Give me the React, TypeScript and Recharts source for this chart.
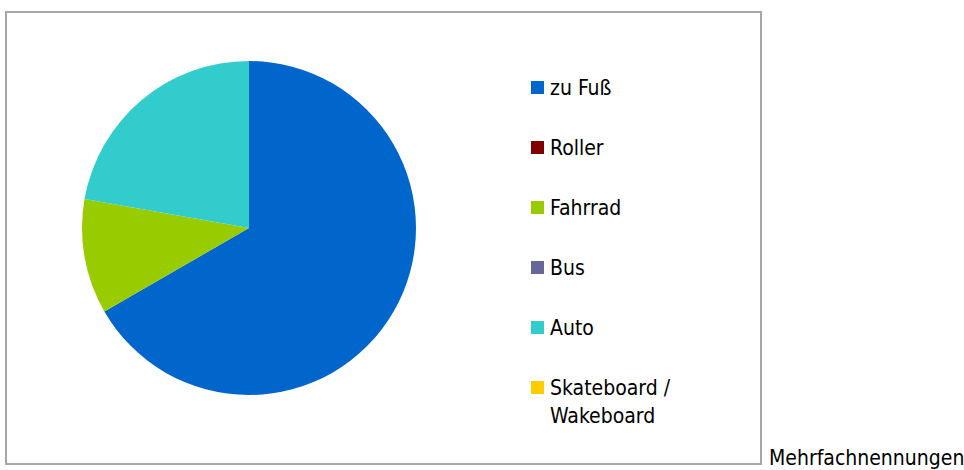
import React from 'react';
import { PieChart, Pie, Cell, Legend } from 'recharts';

const categories = ['zu Fuß', 'Roller', 'Fahrrad', 'Bus', 'Auto', 'Skateboard / Wakeboard'];
const counts = [12, 0, 2, 0, 4, 0];
const colors = ['#0066CC', '#800000', '#99CC00', '#666699', '#33CCCC', '#FFCC00'];
const note = 'Mehrfachnennungen';

const data = categories.map((name, i) => ({ name, value: counts[i] }));

const FONT = 'Tahoma, "DejaVu Sans Condensed", "DejaVu Sans", sans-serif';

const LegendBox = () => (
  <div style={{ fontFamily: FONT, fontSize: 21, color: '#000' }}>
    {categories.map((name, i) => (
      <div key={name} style={{ display: 'flex', alignItems: 'flex-start', height: 60 }}>
        <span
          style={{
            display: 'inline-block',
            width: 13,
            height: 13,
            background: colors[i],
            marginTop: 7,
            marginRight: 6,
            flexShrink: 0,
          }}
        />
        <span style={{ width: 140, lineHeight: '28px' }}>{name}</span>
      </div>
    ))}
  </div>
);

const App: React.FC = () => {
  return (
    <div style={{ position: 'fixed', left: 0, top: 0, width: 964, height: 470, background: '#fff', overflow: 'hidden' }}>
      <div style={{ position: 'absolute', left: 0, top: 0 }}>
        <PieChart width={964} height={470} margin={{ top: 0, right: 0, bottom: 0, left: 0 }}>
          <Pie
            data={data}
            dataKey="value"
            nameKey="name"
            cx={249}
            cy={228}
            outerRadius={167}
            startAngle={90}
            endAngle={-270}
            stroke="none"
            isAnimationActive={false}
          >
            {data.map((d, i) => (
              <Cell key={d.name} fill={colors[i]} />
            ))}
          </Pie>
          <Legend
            layout="vertical"
            content={<LegendBox />}
            wrapperStyle={{ left: 531, top: 74, width: 200 }}
          />
        </PieChart>
      </div>
      <div
        style={{
          position: 'absolute',
          left: 5,
          top: 11,
          width: 757,
          height: 454,
          boxSizing: 'border-box',
          border: '2px solid #a6a6a6',
          pointerEvents: 'none',
        }}
      />
      <div
        style={{
          position: 'absolute',
          left: 769,
          top: 446,
          fontFamily: FONT,
          fontSize: 21,
          lineHeight: '24px',
          whiteSpace: 'nowrap',
          color: '#000',
        }}
      >
        {note}
      </div>
    </div>
  );
};

export default App;
